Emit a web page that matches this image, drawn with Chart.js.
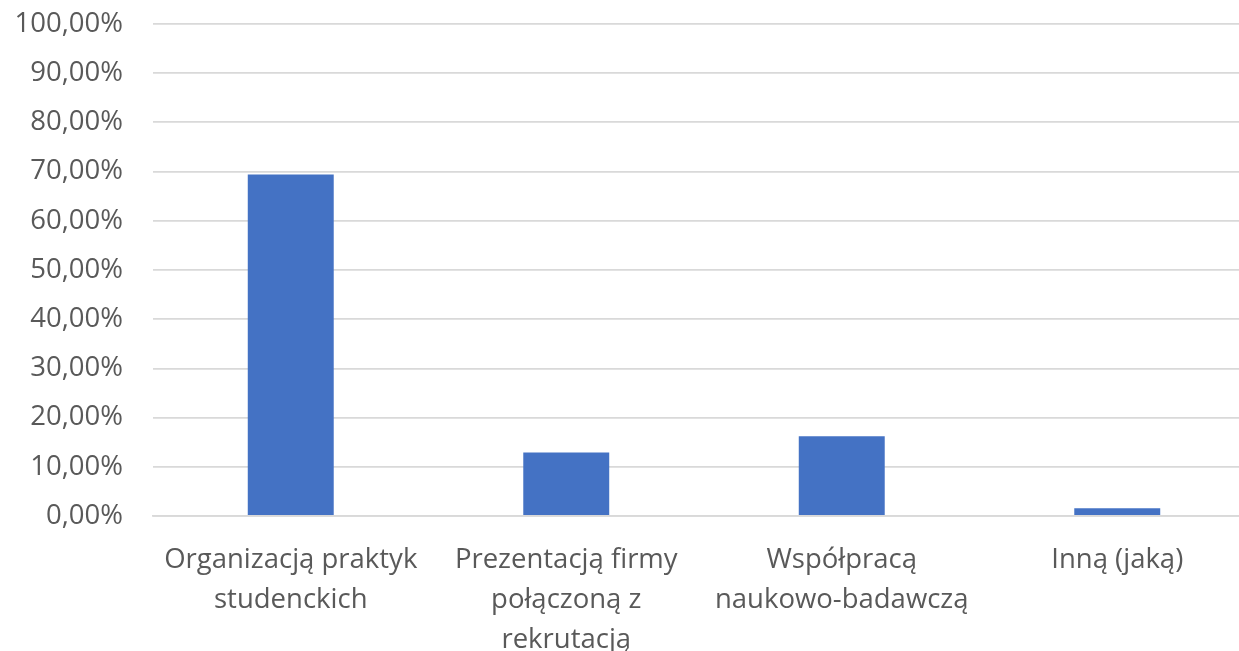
<!DOCTYPE html>
<html>
<head>
<meta charset="utf-8">
<script src="https://cdn.jsdelivr.net/npm/chart.js@4"></script>
<style>
  html, body { margin: 0; padding: 0; background: #fff; overflow: hidden; }
  #wrap { width: 1255px; height: 651px; }
</style>
</head>
<body>
<div id="wrap"><canvas id="myChart" width="1255" height="651"></canvas></div>
<script>
const categories = [
  ['Organizacją praktyk', 'studenckich'],
  ['Prezentacją firmy', 'połączoną z', 'rekrutacją'],
  ['Współpracą', 'naukowo-badawczą'],
  'Inną (jaką)'
];
const shares = [69.4, 12.9, 16.2, 1.6];
const yTicks = [0, 10, 20, 30, 40, 50, 60, 70, 80, 90, 100];

const fmt = v => v.toFixed(2).replace('.', ',') + '%';

const data = {
  labels: categories,
  datasets: [{
    data: shares,
    backgroundColor: '#4472C4',
    borderWidth: 0,
    barPercentage: 0.312,
    categoryPercentage: 1
  }]
};

const config = {
  type: 'bar',
  data,
  options: {
    responsive: false,
    animation: false,
    layout: { padding: { top: 24, right: 0, bottom: 0, left: 0 } },
    scales: {
      y: {
        min: 0,
        max: 100,
        afterBuildTicks: axis => { axis.ticks = yTicks.map(v => ({ value: v })); },
        afterFit: axis => {
          axis.width = 153;
          axis.paddingTop = 0;
          axis.paddingBottom = 0;
        },
        border: { display: false },
        grid: { color: '#d9d9d9', lineWidth: 1.8, drawTicks: false },
        ticks: {
          padding: 30,
          color: '#595959',
          font: { family: 'Open Sans', size: 27.5 },
          callback: v => fmt(v)
        }
      },
      x: {
        afterFit: axis => { axis.height = 135; },
        border: { color: '#d9d9d9', width: 1.8 },
        grid: { display: false },
        ticks: {
          padding: 16,
          maxRotation: 0,
          autoSkip: false,
          color: '#595959',
          font: { family: 'Open Sans', size: 27.5, lineHeight: 1.455 }
        }
      }
    },
    plugins: {
      legend: { display: false },
      tooltip: { enabled: false }
    }
  }
};

const myChart = new Chart(document.getElementById('myChart'), config);
</script>
</body>
</html>
